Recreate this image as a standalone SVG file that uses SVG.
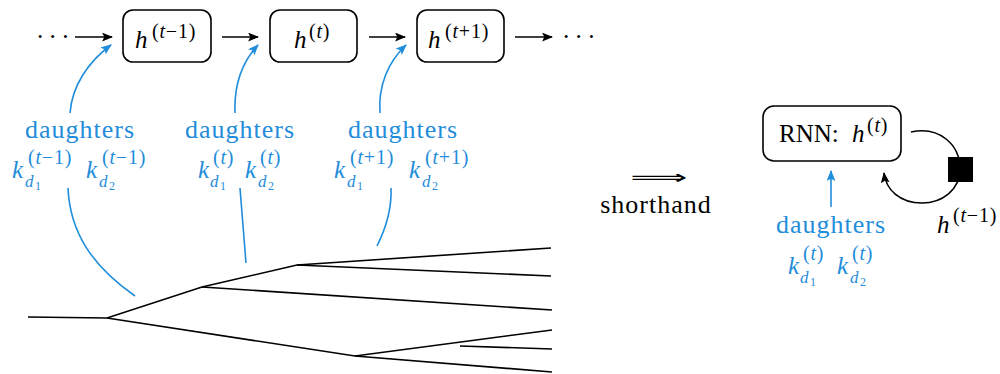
<svg xmlns="http://www.w3.org/2000/svg" width="1000" height="374" viewBox="0 0 1000 374">
<style>
  .t { font-family: "Liberation Serif", "DejaVu Serif", serif; font-size: 25px; fill: #000; }
  .lab { font-size: 26px; letter-spacing: 1px; }
  .b { fill: #1f8ddb; }
  .i { font-style: italic; }
  .sup { font-size: 20px; letter-spacing: 0.8px; }
  .sub { font-size: 17px; }
  .ss { font-size: 12px; }
  .box { fill: #fff; stroke: #000; stroke-width: 1.6; }
  .ln { fill: none; stroke: #000; stroke-width: 1.6; }
  .bl { fill: none; stroke: #1f8ddb; stroke-width: 1.6; }
</style>
<defs>
  <marker id="ak" viewBox="0 0 10 8" refX="9" refY="4" markerWidth="11" markerHeight="9" markerUnits="userSpaceOnUse" orient="auto">
    <path d="M0,0 L10,4 L0,8 L2,4 z" fill="#000"/>
  </marker>
  <marker id="ab" viewBox="0 0 10 8" refX="9" refY="4" markerWidth="11" markerHeight="9" markerUnits="userSpaceOnUse" orient="auto">
    <path d="M0,0 L10,4 L0,8 L2,4 z" fill="#1f8ddb"/>
  </marker>
</defs>

<!-- tree -->
<g id="tree">
  <path class="ln" d="M28,317 L107,318 L202,287 L297,265 L551,248"/>
  <path class="ln" d="M297,265 L551,276"/>
  <path class="ln" d="M202,287 L552,310"/>
  <path class="ln" d="M107,318 L355,356 L552,330"/>
  <path class="ln" d="M460,346 L552,349"/>
  <path class="ln" d="M355,356 L552,372"/>
</g>

<!-- nodes -->
<g id="dots-left"><text class="t" x="36" y="45" style="letter-spacing:-1px">· · ·</text></g>
<g id="h-tm1">
  <rect class="box" x="123" y="10" width="88" height="52" rx="10"/>
  <text class="t" x="135" y="48"><tspan class="i">h</tspan><tspan class="sup" x="152" y="38">(<tspan class="i">t</tspan>−1)</tspan></text>
</g>
<g id="h-t">
  <rect class="box" x="270" y="10" width="87" height="52" rx="10"/>
  <text class="t" x="294" y="48"><tspan class="i">h</tspan><tspan class="sup" x="309" y="38">(<tspan class="i">t</tspan>)</tspan></text>
</g>
<g id="h-tp1">
  <rect class="box" x="417" y="10" width="87" height="52" rx="10"/>
  <text class="t" x="428" y="48"><tspan class="i">h</tspan><tspan class="sup" x="445" y="38">(<tspan class="i">t</tspan>+1)</tspan></text>
</g>
<g id="dots-right"><text class="t" x="562" y="45" style="letter-spacing:-1px">· · ·</text></g>

<g id="daughters-1">
  <text class="t lab b" x="80" y="138" text-anchor="middle">daughters</text>
  <text class="t b" x="12" y="178"><tspan class="i">k</tspan><tspan class="sup" x="28" y="164">(<tspan class="i">t</tspan>−1)</tspan><tspan class="sub i" x="25" y="187">d</tspan><tspan class="ss" x="35" y="190">1</tspan></text>
  <text class="t b" x="86" y="178"><tspan class="i">k</tspan><tspan class="sup" x="102" y="164">(<tspan class="i">t</tspan>−1)</tspan><tspan class="sub i" x="99" y="187">d</tspan><tspan class="ss" x="109" y="190">2</tspan></text>
</g>
<g id="daughters-2">
  <text class="t lab b" x="240" y="138" text-anchor="middle">daughters</text>
  <text class="t b" x="198" y="178"><tspan class="i">k</tspan><tspan class="sup" x="213" y="164">(<tspan class="i">t</tspan>)</tspan><tspan class="sub i" x="210" y="187">d</tspan><tspan class="ss" x="220" y="190">1</tspan></text>
  <text class="t b" x="245" y="178"><tspan class="i">k</tspan><tspan class="sup" x="260" y="164">(<tspan class="i">t</tspan>)</tspan><tspan class="sub i" x="258" y="187">d</tspan><tspan class="ss" x="268" y="190">2</tspan></text>
</g>
<g id="daughters-3">
  <text class="t lab b" x="403" y="138" text-anchor="middle">daughters</text>
  <text class="t b" x="334" y="178"><tspan class="i">k</tspan><tspan class="sup" x="350" y="164">(<tspan class="i">t</tspan>+1)</tspan><tspan class="sub i" x="347" y="187">d</tspan><tspan class="ss" x="357" y="190">1</tspan></text>
  <text class="t b" x="409" y="178"><tspan class="i">k</tspan><tspan class="sup" x="425" y="164">(<tspan class="i">t</tspan>+1)</tspan><tspan class="sub i" x="422" y="187">d</tspan><tspan class="ss" x="432" y="190">2</tspan></text>
</g>

<g id="shorthand">
  <text transform="translate(659,184) scale(2,1)" text-anchor="middle" style="font-family:'DejaVu Sans',sans-serif;font-size:20px">⟹</text>
  <text class="t lab" x="656" y="213" text-anchor="middle">shorthand</text>
</g>

<g id="rnn">
  <rect class="box" x="763" y="106" width="138" height="55" rx="11"/>
  <text class="t" x="779" y="142">RNN:<tspan class="i" x="852">h</tspan><tspan class="sup" x="867" y="132">(<tspan class="i">t</tspan>)</tspan></text>
</g>
<g id="delay">
  <rect x="948" y="157" width="25" height="25" fill="#000"/>
</g>
<g id="h-tm1-label">
  <text class="t" x="937" y="233"><tspan class="i">h</tspan><tspan class="sup" x="953" y="222">(<tspan class="i">t</tspan>−1)</tspan></text>
</g>
<g id="daughters-r">
  <text class="t lab b" x="831" y="233" text-anchor="middle">daughters</text>
  <text class="t b" x="788" y="274"><tspan class="i">k</tspan><tspan class="sup" x="803" y="260">(<tspan class="i">t</tspan>)</tspan><tspan class="sub i" x="800" y="283">d</tspan><tspan class="ss" x="810" y="286">1</tspan></text>
  <text class="t b" x="837" y="274"><tspan class="i">k</tspan><tspan class="sup" x="852" y="260">(<tspan class="i">t</tspan>)</tspan><tspan class="sub i" x="850" y="283">d</tspan><tspan class="ss" x="860" y="286">2</tspan></text>
</g>

<!-- connectors -->
<g id="connectors">
  <path class="ln" d="M75,37 H112" marker-end="url(#ak)"/>
  <path class="ln" d="M222,37 H258" marker-end="url(#ak)"/>
  <path class="ln" d="M369,37 H405" marker-end="url(#ak)"/>
  <path class="ln" d="M515,37 H552" marker-end="url(#ak)"/>
  <path class="bl" d="M70,113 C72,86 88,62 111,45" marker-end="url(#ab)"/>
  <path class="bl" d="M235,113 C234,86 242,62 258,45" marker-end="url(#ab)"/>
  <path class="bl" d="M380,113 C378,86 388,62 406,45" marker-end="url(#ab)"/>
  <path class="bl" d="M68,188 C70,235 95,268 135,296"/>
  <path class="bl" d="M240,188 L246,263"/>
  <path class="bl" d="M391,188 C392,210 386,228 377,246"/>
  <path class="bl" d="M831,207 V171" marker-end="url(#ab)"/>
  <path class="ln" d="M911,132 C940,126 960,145 960,169 C960,190 942,203 922,203 C900,203 886,190 884,173" marker-end="url(#ak)"/>
</g>
</svg>
